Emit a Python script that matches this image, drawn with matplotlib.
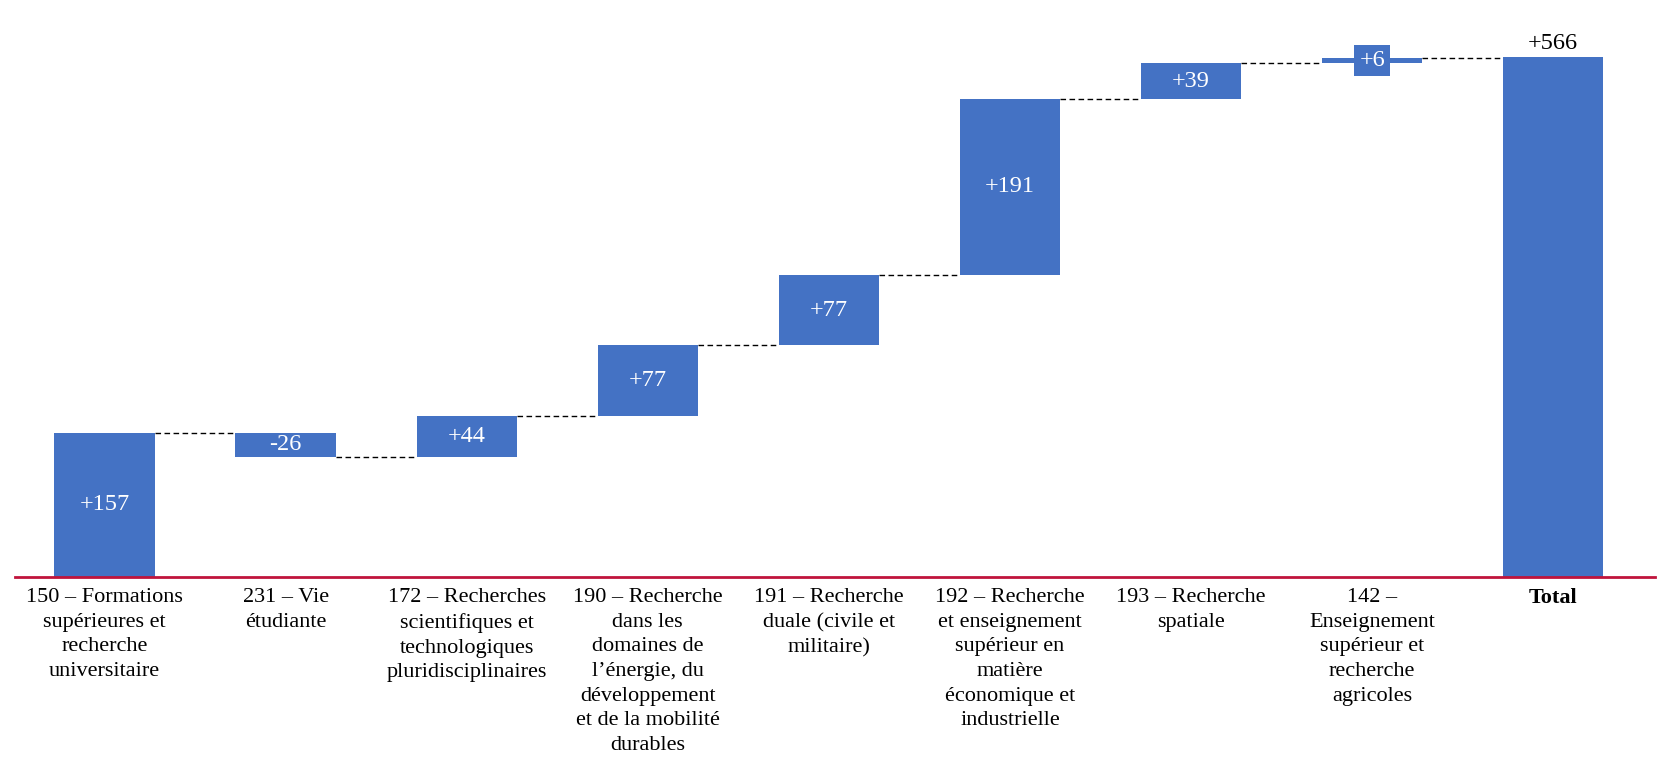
import matplotlib
matplotlib.use("Agg")
import matplotlib.pyplot as plt

categories = [
    "150 – Formations\nsupérieures et\nrecherche\nuniversitaire",
    "231 – Vie\nétudiante",
    "172 – Recherches\nscientifiques et\ntechnologiques\npluridisciplinaires",
    "190 – Recherche\ndans les\ndomaines de\nl’énergie, du\ndéveloppement\net de la mobilité\ndurables",
    "191 – Recherche\nduale (civile et\nmilitaire)",
    "192 – Recherche\net enseignement\nsupérieur en\nmatière\néconomique et\nindustrielle",
    "193 – Recherche\nspatiale",
    "142 –\nEnseignement\nsupérieur et\nrecherche\nagricoles",
    "Total",
]
changes = [157, -26, 44, 77, 77, 191, 39, 6]
total = 566
value_labels = ["+157", "-26", "+44", "+77", "+77", "+191", "+39", "+6", "+566"]

BLUE = "#4472C4"
RED = "#C0143C"
FONT = "Liberation Serif"
FS = 16
VFS = 17.5

W, H = 1658, 772
fig = plt.figure(figsize=(W / 100, H / 100), dpi=100)
x0, x1 = -0.494, 8.56
pxu = 181.1
ax = fig.add_axes([15 / W, 195 / H, (x1 - x0) * pxu / W, 600 * 0.919 / H])

width = 0.553
cum = 0
levels = []
for i, v in enumerate(changes):
    bottom = cum if v >= 0 else cum + v
    ax.bar(i, abs(v), bottom=bottom, width=width, color=BLUE, zorder=2)
    mid = bottom + abs(v) / 2
    kw = dict(ha="center", va="center", color="white", fontsize=VFS, family=FONT, zorder=4)
    if abs(v) < 15:
        kw["bbox"] = dict(boxstyle="square,pad=0.22", fc=BLUE, ec="none")
    ax.text(i, mid, value_labels[i], **kw)
    cum += v
    levels.append(cum)

n = len(changes)
ax.bar(n, total, width=width, color=BLUE, zorder=2)
ax.text(n, total + 3, value_labels[n], ha="center", va="bottom", color="black",
        fontsize=VFS, family=FONT)

# connectors
for i, lvl in enumerate(levels):
    ax.plot([i + width / 2, i + 1 - width / 2], [lvl, lvl], color="black",
            lw=1.0, ls=(0, (4, 2.5)), zorder=1)

ax.set_xlim(x0, x1)
ax.set_ylim(0, 600)
for s in ["top", "right", "left"]:
    ax.spines[s].set_visible(False)
ax.spines["bottom"].set_color(RED)
ax.spines["bottom"].set_linewidth(2)
ax.set_yticks([])
ax.set_xticks(range(n + 1))
ax.set_xticklabels(categories, fontsize=FS, family=FONT, linespacing=1.4)
ax.tick_params(axis="x", length=0, pad=8)
for t in ax.get_xticklabels():
    if t.get_text() == "Total":
        t.set_fontweight("bold")

fig.savefig("out.png", dpi=100)
